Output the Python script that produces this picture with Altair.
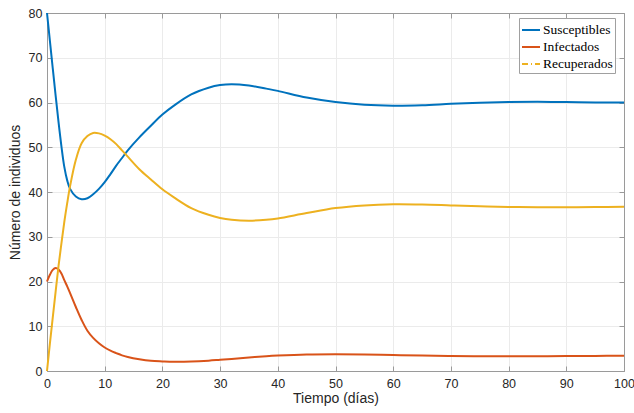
import altair as alt
import pandas as pd

# Time (days) and the three compartments of the epidemic model
dias = [0, 0.5, 1, 1.5, 2, 2.5, 3, 3.5, 4, 5, 6, 7, 8, 9, 10, 11, 12, 13, 14, 16,
        18, 20, 22, 25, 28, 30, 32, 35, 38, 40, 45, 50, 55, 60, 65, 70, 75, 80,
        85, 90, 95, 100]
susceptibles = [80, 73.8, 67.6, 61.5, 55.6, 50.2, 45.6, 42.6, 40.7, 39.0, 38.4, 38.6,
                39.5, 40.7, 42.2, 44.0, 45.9, 47.6, 49.3, 52.2, 54.8, 57.3, 59.3, 61.8,
                63.3, 63.9, 64.1, 63.8, 63.1, 62.6, 61.1, 60.1, 59.5, 59.3, 59.4, 59.7,
                59.95, 60.1, 60.15, 60.1, 60.0, 60.0]
infectados = [20, 21.5, 22.6, 23.0, 22.7, 21.8, 20.3, 18.9, 17.4, 14.3, 11.4, 9.0,
              7.4, 6.2, 5.25, 4.55, 4.0, 3.5, 3.15, 2.65, 2.3, 2.15, 2.05, 2.1,
              2.3, 2.5, 2.7, 3.0, 3.3, 3.45, 3.7, 3.75, 3.7, 3.55, 3.45, 3.35,
              3.3, 3.3, 3.3, 3.35, 3.38, 3.4]
recuperados = [0, 6.1, 12.0, 17.8, 23.5, 28.5, 33.3, 37.5, 41.3, 47.2, 50.9, 52.5,
               53.2, 53.1, 52.6, 51.8, 50.7, 49.3, 47.9, 45.1, 42.8, 40.6, 38.8, 36.4,
               34.9, 34.2, 33.8, 33.6, 33.8, 34.1, 35.3, 36.4, 37.0, 37.25, 37.2, 37.0,
               36.8, 36.65, 36.6, 36.6, 36.65, 36.7]

series = ["Susceptibles", "Infectados", "Recuperados"]
colores = ["#0072BD", "#D95319", "#EDB120"]
trazos = [[1, 0], [1, 0], [6, 3, 1, 3]]
x_ticks = list(range(0, 101, 10))
y_ticks = list(range(0, 81, 10))

W, H = 577, 358
AXIS_GRAY = "#9a9a9a"
TEXT = "#262626"
SANS = "Liberation Sans"
SERIF = "Liberation Serif"

df = pd.concat([
    pd.DataFrame({"t": dias, "valor": vals, "serie": name})
    for name, vals in zip(series, [susceptibles, infectados, recuperados])
], ignore_index=True)

xscale = alt.Scale(domain=[0, 100], nice=False, zero=False)
yscale = alt.Scale(domain=[0, 80], nice=False, zero=False)

# Main labelled axes with grid
x_main = alt.Axis(values=x_ticks, grid=True, gridColor="#ebebeb", ticks=False,
                  domainColor=AXIS_GRAY, labelFont=SANS, labelFontSize=12.5,
                  labelColor=TEXT, labelPadding=6, labelFlush=False,
                  title="Tiempo (días)", titleFont=SANS, titleFontSize=14,
                  titleFontWeight="normal", titleColor=TEXT, titlePadding=2)
y_main = alt.Axis(values=y_ticks, grid=True, gridColor="#ebebeb", ticks=False,
                  domainColor=AXIS_GRAY, labelFont=SANS, labelFontSize=12.5,
                  labelColor=TEXT, labelPadding=5, labelFlush=False,
                  title="Número de individuos", titleFont=SANS, titleFontSize=14,
                  titleFontWeight="normal", titleColor=TEXT, titlePadding=6)

legend = alt.Legend(
    title=None, orient="none", legendX=472, legendY=5,
    symbolType="stroke", symbolStrokeWidth=2, symbolSize=324, symbolOpacity=1,
    labelFont=SERIF, labelFontSize=13.5, labelColor="#000000", labelOffset=2,
    rowPadding=-3, padding=2, fillColor="white", strokeColor="#a0a0a0",
    cornerRadius=0,
)

color_enc = alt.Color("serie:N", scale=alt.Scale(domain=series, range=colores),
                      legend=legend)

lines = alt.Chart(df).mark_line(strokeWidth=2, interpolate="catmull-rom").encode(
    x=alt.X("t:Q", scale=xscale, axis=x_main),
    y=alt.Y("valor:Q", scale=yscale, axis=y_main),
    color=color_enc,
)

# Invisible copy of the curves that carries the legend's line styles
key = alt.Chart(df).mark_line(strokeWidth=2, opacity=0).encode(
    x=alt.X("t:Q", scale=xscale, axis=None),
    y=alt.Y("valor:Q", scale=yscale, axis=None),
    color=color_enc,
    strokeDash=alt.StrokeDash("serie:N", scale=alt.Scale(domain=series, range=trazos),
                              legend=legend),
)

# Inward ticks along bottom and left edges
inner_a = alt.Chart(df).mark_point(opacity=0).encode(
    x=alt.X("t:Q", scale=xscale, axis=alt.Axis(
        orient="top", offset=-H, labels=False, title=None, grid=False,
        tickSize=5, tickColor=AXIS_GRAY, domain=False, values=x_ticks)),
    y=alt.Y("valor:Q", scale=yscale, axis=alt.Axis(
        orient="right", offset=-W, labels=False, title=None, grid=False,
        tickSize=5, tickColor=AXIS_GRAY, domain=False, values=y_ticks)),
)

# Top and right border lines with inward ticks
inner_b = alt.Chart(df).mark_point(opacity=0).encode(
    x=alt.X("t:Q", scale=xscale, axis=alt.Axis(
        orient="bottom", offset=-H, labels=False, title=None, grid=False,
        tickSize=5, tickColor=AXIS_GRAY, domainColor=AXIS_GRAY, values=x_ticks)),
    y=alt.Y("valor:Q", scale=yscale, axis=alt.Axis(
        orient="left", offset=-W, labels=False, title=None, grid=False,
        tickSize=5, tickColor=AXIS_GRAY, domainColor=AXIS_GRAY, values=y_ticks)),
)

chart = alt.layer(lines, key, inner_a, inner_b).resolve_axis(
    x="independent", y="independent"
).properties(
    width=W, height=H,
    autosize=alt.AutoSizeParams(type="none"),
    padding={"left": 47, "top": 13, "right": 10, "bottom": 42},
).configure_view(stroke=None).configure(background="white")

chart.save("out.html", embed_options={"renderer": "svg", "actions": False})
